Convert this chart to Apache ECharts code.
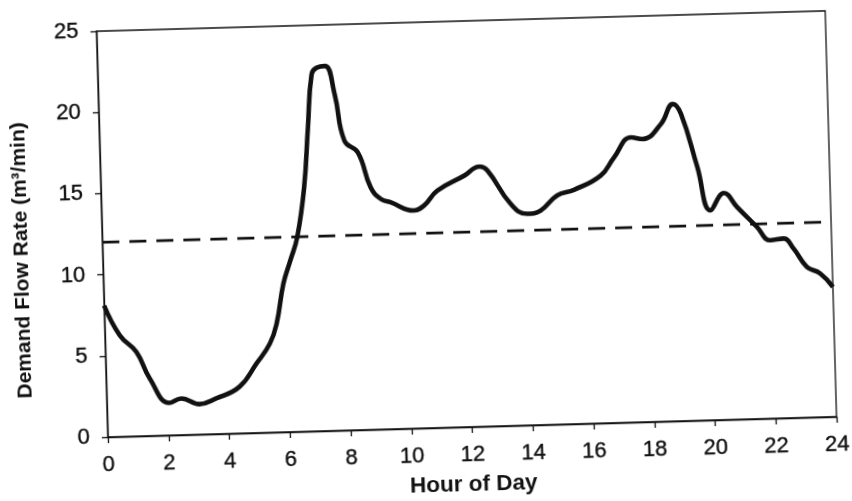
<!DOCTYPE html>
<html>
<head>
<meta charset="utf-8">
<script src="https://cdn.jsdelivr.net/npm/echarts@6/dist/echarts.min.js"></script>
<style>
html, body { margin: 0; padding: 0; background: #fff; overflow: hidden; }
/* the scanned page is turned a little, so the chart is turned too */
#chart { width: 852px; height: 501px; transform: rotate(-1.6deg); transform-origin: 466px 224px; }
</style>
</head>
<body>
<div id="chart"></div>
<script>
//---------------------------Data---------------------------
//demand curve, hour of day and flow rate (m3/min)
let hours = [0, 0.49, 1.02, 1.43, 2.06, 2.45, 3.05, 3.6, 4.38, 4.96, 5.42, 5.66, 5.92, 6.17, 6.42,
    6.69, 6.87, 7.04, 7.21, 7.49, 7.78, 8.06, 8.49, 8.88, 9.2, 9.52, 10.28, 10.62, 11.07, 11.97,
    12.47, 12.74, 13.47, 14.01, 14.45, 15.01, 15.57, 16.46, 16.92, 17.49, 17.87, 18.49, 18.9,
    19.16, 19.65, 20.04, 20.5, 20.92, 21.56, 21.98, 22.42, 22.74, 23.16, 23.59, 24];
let flow = [8.1, 6.24, 5.19, 3.55, 2.0, 2.25, 1.87, 2.19, 2.87, 4.27, 5.48, 6.69, 9.14, 10.56, 12.0,
    15.03, 18.71, 21.98, 22.38, 22.47, 20.71, 17.83, 17.09, 14.92, 14.19, 13.97, 13.42, 13.71, 14.6, 15.48,
    16.01, 15.75, 13.67, 13.02, 13.2, 14.1, 14.42, 15.25, 16.35, 17.55, 17.43, 18.32, 19.53,
    18.9, 15.6, 12.92, 13.96, 13.08, 11.81, 10.98, 11.06, 10.43, 9.28, 8.85, 8.0];

//average demand (dashed line)
let avgHours = [0, 24];
let avgFlow = [12, 12];

//axis ticks
let xTicks = [0, 2, 4, 6, 8, 10, 12, 14, 16, 18, 20, 22, 24];
let yTicks = [0, 5, 10, 15, 20, 25];

//---------------------------UI---------------------------
let chart = echarts.init(document.getElementById('chart'));

function pairs(xs, ys) {
    let out = [];
    for (let i = 0; i < xs.length; i++) {
        out.push([xs[i], ys[i]]);
    }
    return out;
}

let font = "'Liberation Sans', Arial, sans-serif";
let ink = '#111';

//tick labels look a bit heavy on the scan
let tickText = { fontFamily: font, fontSize: 22, color: ink, textBorderColor: ink, textBorderWidth: 0.4 };

let option = {
    animation: false,
    backgroundColor: '#fff',
    grid: {
        left: 102, top: 21, width: 729, height: 406,
        show: true, borderColor: ink, borderWidth: 1.3, backgroundColor: 'transparent'
    },
    xAxis: {
        type: 'value',
        min: xTicks[0], max: xTicks[xTicks.length - 1], interval: xTicks[1] - xTicks[0],
        name: 'Hour of Day', nameLocation: 'middle', nameGap: 46,
        nameTextStyle: { fontFamily: font, fontWeight: 'bold', fontSize: 22.5, color: ink },
        splitLine: { show: false },
        axisLine: { lineStyle: { color: ink, width: 1.3 } },
        axisTick: { length: 6, lineStyle: { color: ink, width: 1.3 } },
        axisLabel: Object.assign({ margin: 17 }, tickText)
    },
    yAxis: {
        type: 'value',
        min: yTicks[0], max: yTicks[yTicks.length - 1], interval: yTicks[1] - yTicks[0],
        name: 'Demand Flow Rate (m³/min)', nameLocation: 'middle', nameGap: 70,
        nameTextStyle: { fontFamily: font, fontWeight: 'bold', fontSize: 21, color: ink, padding: [0, 48, 0, 0] },
        splitLine: { show: false },
        axisLine: { show: true, lineStyle: { color: ink, width: 1.3 } },
        axisTick: { show: true, length: 6, lineStyle: { color: ink, width: 1.3 } },
        axisLabel: Object.assign({ margin: 18 }, tickText)
    },
    series: [
        {
            type: 'line',
            data: pairs(hours, flow),
            showSymbol: false,
            smooth: 0.45,
            lineStyle: { color: ink, width: 4.6 },
            z: 3
        },
        {
            type: 'line',
            data: pairs(avgHours, avgFlow),
            showSymbol: false,
            lineStyle: { color: ink, width: 2.8, type: [17, 10] },
            z: 2
        }
    ]
};

chart.setOption(option);
</script>
</body>
</html>
